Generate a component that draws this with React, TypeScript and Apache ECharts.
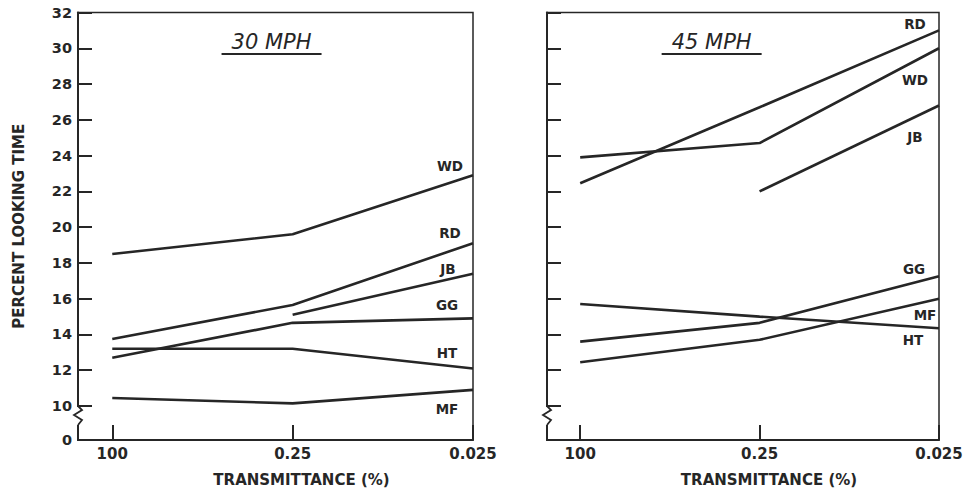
import React, { useEffect, useRef } from "react";
import * as echarts from "echarts";

// ---------- data ----------
const TRANSMITTANCE = ["100", "0.25", "0.025"];
const Y_TICK_VALUES = [10, 12, 14, 16, 18, 20, 22, 24, 26, 28, 30, 32];
const Y_BREAK_LABEL = "0";
const Y_AXIS_NAME = "PERCENT LOOKING TIME";
const X_AXIS_NAME = "TRANSMITTANCE (%)";
const PANEL_TITLES = ["30 MPH", "45 MPH"];
const DRIVERS = ["WD", "RD", "JB", "GG", "HT", "MF"];

// 30 MPH panel
const MPH30_WD = [18.5, 19.6, 22.9];
const MPH30_RD = [13.75, 15.65, 19.1];
const MPH30_JB = [null, 15.1, 17.4];
const MPH30_GG = [12.7, 14.65, 14.9];
const MPH30_HT = [13.2, 13.2, 12.1];
const MPH30_MF = [10.45, 10.15, 10.9];

// 45 MPH panel
const MPH45_WD = [23.9, 24.7, 30.0];
const MPH45_RD = [22.45, 26.7, 31.0];
const MPH45_JB = [null, 22.0, 26.8];
const MPH45_GG = [13.6, 14.65, 17.25];
const MPH45_HT = [15.7, 15.0, 14.35];
const MPH45_MF = [12.45, 13.7, 16.0];

const PANEL_DATA = [
  [MPH30_WD, MPH30_RD, MPH30_JB, MPH30_GG, MPH30_HT, MPH30_MF],
  [MPH45_WD, MPH45_RD, MPH45_JB, MPH45_GG, MPH45_HT, MPH45_MF],
];

// ---------- layout / style ----------
const INK = "#262626";
const FONT = "DejaVu Sans";
const GRIDS = [
  { left: 78, top: 12.5, width: 395, height: 427.5 },
  { left: 547, top: 12.5, width: 392, height: 427.5 },
];
const X_MIN = [-0.19, -0.185];
const Y_MIN = 8.1;
const Y_MAX = 32;
// label offsets [dx, dy] relative to each line's end point, per panel, per driver
// order: WD, RD, JB, GG, HT, MF
const LABEL_OFFSETS = [
  [[-23, -9], [-23, -10], [-25, -5], [-26, -13], [-26, -15], [-26, 19]],
  [[-24, 32], [-24, -6], [-24, 31], [-25, -7], [-26, 12], [-14, 16]],
];

export default function App() {
  const ref = useRef<HTMLDivElement>(null);

  useEffect(() => {
    if (!ref.current) return;
    const chart = echarts.init(ref.current, null, { renderer: "svg" });

    const grids = GRIDS.map((g) => ({
      ...g,
      show: true,
      borderColor: INK,
      borderWidth: 1.5,
      backgroundColor: "transparent",
      containLabel: false,
    }));

    const xAxes = GRIDS.map((_, p) => ({
      type: "value",
      gridIndex: p,
      min: X_MIN[p],
      max: TRANSMITTANCE.length - 1,
      name: X_AXIS_NAME,
      nameLocation: "middle",
      nameGap: 32,
      nameTextStyle: {
        color: INK,
        fontFamily: FONT,
        fontWeight: "bold",
        fontSize: 15,
        padding: [0, 0, 0, 52],
      },
      splitLine: { show: false },
      axisLine: { show: true, onZero: false, lineStyle: { color: INK, width: 2 } },
      axisTick: {
        show: true,
        inside: true,
        length: 15,
        customValues: TRANSMITTANCE.map((_, i) => i),
        lineStyle: { color: INK, width: 2 },
      },
      axisLabel: {
        show: true,
        customValues: TRANSMITTANCE.map((_, i) => i),
        formatter: (v: number) => TRANSMITTANCE[Math.round(v)] ?? "",
        color: INK,
        fontFamily: FONT,
        fontWeight: "bold",
        fontSize: 15,
        margin: 6,
      },
    }));

    const yAxes = GRIDS.map((_, p) => ({
      type: "value",
      gridIndex: p,
      min: Y_MIN,
      max: Y_MAX,
      name: p === 0 ? Y_AXIS_NAME : "",
      nameLocation: "middle",
      nameGap: 52,
      nameRotate: 90,
      nameTextStyle: {
        color: INK,
        fontFamily: FONT,
        fontWeight: "bold",
        fontSize: 15,
      },
      splitLine: { show: false },
      axisLine: { show: true, onZero: false, lineStyle: { color: INK, width: 2 } },
      axisTick: {
        show: true,
        inside: true,
        length: 14,
        customValues: Y_TICK_VALUES,
        lineStyle: { color: INK, width: 2 },
      },
      axisLabel: {
        show: p === 0,
        customValues: [Y_MIN, ...Y_TICK_VALUES],
        formatter: (v: number) => (v < Y_TICK_VALUES[0] ? Y_BREAK_LABEL : String(v)),
        color: INK,
        fontFamily: FONT,
        fontWeight: "bold",
        fontSize: 14.5,
        margin: 6,
      },
    }));

    const series: any[] = [];
    PANEL_DATA.forEach((panel, p) => {
      panel.forEach((vals, s) => {
        const data = vals
          .map((v, i) => (v === null ? null : [i, v]))
          .filter((d) => d !== null);
        const [dx, dy] = LABEL_OFFSETS[p][s];
        series.push({
          type: "line",
          name: DRIVERS[s] + "-" + p,
          xAxisIndex: p,
          yAxisIndex: p,
          data,
          showSymbol: false,
          symbol: "none",
          silent: true,
          lineStyle: { color: INK, width: 2.6 },
          endLabel: {
            show: true,
            formatter: () => DRIVERS[s],
            distance: 0,
            align: "center",
            verticalAlign: "middle",
            offset: [dx, dy],
            color: INK,
            fontFamily: FONT,
            fontWeight: "bold",
            fontSize: 13.5,
          },
        });
      });
    });

    // decorative titles, underlines and axis-break squiggles
    const graphic: any[] = [];
    GRIDS.forEach((g, p) => {
      const cx = g.left + g.width * (p === 0 ? 0.49 : 0.42);
      graphic.push({
        type: "text",
        x: cx,
        y: 42,
        style: {
          text: PANEL_TITLES[p],
          fill: INK,
          font: `italic 21px "${FONT}"`,
          align: "center",
          verticalAlign: "middle",
        },
      });
      graphic.push({
        type: "line",
        shape: { x1: cx - 50, y1: 54, x2: cx + 50, y2: 54 },
        style: { stroke: INK, lineWidth: 2 },
      });
      const ax = g.left;
      const yb = g.top + g.height;
      graphic.push({
        type: "rect",
        shape: { x: ax - 2, y: yb - 33, width: 4, height: 18 },
        style: { fill: "#ffffff" },
        z: 100,
      });
      graphic.push({
        type: "polyline",
        shape: {
          points: [
            [ax, yb - 34],
            [ax + 4, yb - 30],
            [ax - 4, yb - 25],
            [ax + 4, yb - 20],
            [ax, yb - 15],
          ],
        },
        style: { stroke: INK, lineWidth: 1.8, fill: "none" },
        z: 101,
      });
    });

    chart.setOption({
      animation: false,
      backgroundColor: "#ffffff",
      grid: grids,
      xAxis: xAxes,
      yAxis: yAxes,
      series,
      graphic,
    });

    return () => chart.dispose();
  }, []);

  return (
    <div
      ref={ref}
      style={{ width: 969, height: 492, position: "absolute", left: 0, top: 0 }}
    />
  );
}
